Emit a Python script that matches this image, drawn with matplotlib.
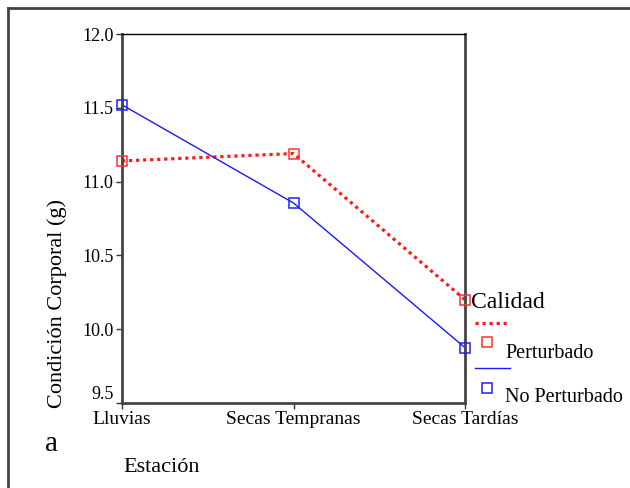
import matplotlib
matplotlib.use("Agg")
import matplotlib.pyplot as plt
from matplotlib.lines import Line2D

categories = ["Lluvias", "Secas Tempranas", "Secas Tardías"]
perturbado = [11.14, 11.19, 10.20]
no_perturbado = [11.52, 10.855, 9.875]
yticks = [9.5, 10.0, 10.5, 11.0, 11.5, 12.0]

plt.rcParams['font.family'] = ['Liberation Serif', 'DejaVu Serif']

fig = plt.figure(figsize=(6.3, 4.88), dpi=100)
W, H = 630, 488
ax = fig.add_axes([122 / W, (H - 403) / H, 343 / W, 369 / H])

red = '#ff1a1a'
blue = '#1a1aff'
x = list(range(len(categories)))
ax.plot(x, perturbado, color=red, linestyle=(0, (1, 1.2)), linewidth=2.3, zorder=2, clip_on=False)
ax.plot(x, perturbado, linestyle='none', marker='s', markersize=7.5, clip_on=False,
        markerfacecolor='none', markeredgecolor='#ff3030', markeredgewidth=1.1, zorder=3)
ax.plot(x, no_perturbado, color=blue, linestyle='-', linewidth=1.0, zorder=2, clip_on=False)
ax.plot(x, no_perturbado, linestyle='none', marker='s', markersize=7.5, clip_on=False,
        markerfacecolor='none', markeredgecolor='#2020ff', markeredgewidth=1.1, zorder=3)

ax.set_xlim(0, 2)
ax.set_ylim(9.5, 12.0)
ax.set_xticks(x)
ax.set_xticklabels(categories, fontsize=14)
ax.set_yticks(yticks)
ax.set_yticklabels([f"{v:.1f}" for v in yticks], fontsize=13)
ax.get_yticklabels()[0].set_va('bottom')
ax.tick_params(length=4, width=1, color='#333333', pad=2)

for side in ['left', 'right', 'bottom']:
    ax.spines[side].set_color('#444444')
    ax.spines[side].set_linewidth(2)
ax.spines['top'].set_color('black')
ax.spines['top'].set_linewidth(1)

ax.set_ylabel("Condición Corporal (g)", fontsize=16)
ax.yaxis.set_label_coords((67 - 122) / 343, (403 - 303) / 369)

# Outer frame (top and left)
fig.add_artist(Line2D([8 / W, 1], [1 - 8 / H, 1 - 8 / H], transform=fig.transFigure,
                      color='#444444', linewidth=2))
fig.add_artist(Line2D([8 / W, 8 / W], [0, 1 - 8 / H], transform=fig.transFigure,
                      color='#444444', linewidth=2))

fig.text(52 / W, 1 - 444 / H, "a", fontsize=21, ha='center', va='center')
fig.text(123 / W, 1 - 468 / H, "Estación", fontsize=16, ha='left', va='center')

# Legend
fig.text(471 / W, 1 - 302 / H, "Calidad", fontsize=17, ha='left', va='center')
fig.add_artist(Line2D([475 / W, 510 / W], [1 - 323 / H, 1 - 323 / H], transform=fig.transFigure,
                      color=red, linestyle=(0, (1, 1.2)), linewidth=2.3))
fig.add_artist(Line2D([487 / W], [1 - 342 / H], transform=fig.transFigure, linestyle='none',
                      marker='s', markersize=7.5, markerfacecolor='none',
                      markeredgecolor='#ff3030', markeredgewidth=1.1))
fig.text(505 / W, 1 - 353 / H, "Perturbado", fontsize=14.5, ha='left', va='center')
fig.add_artist(Line2D([475 / W, 510 / W], [1 - 368 / H, 1 - 368 / H], transform=fig.transFigure,
                      color=blue, linewidth=1))
fig.add_artist(Line2D([487 / W], [1 - 388 / H], transform=fig.transFigure, linestyle='none',
                      marker='s', markersize=7.5, markerfacecolor='none',
                      markeredgecolor='#2020ff', markeredgewidth=1.1))
fig.text(505 / W, 1 - 398 / H, "No Perturbado", fontsize=14.5, ha='left', va='center')

fig.savefig("out.png", dpi=100)
